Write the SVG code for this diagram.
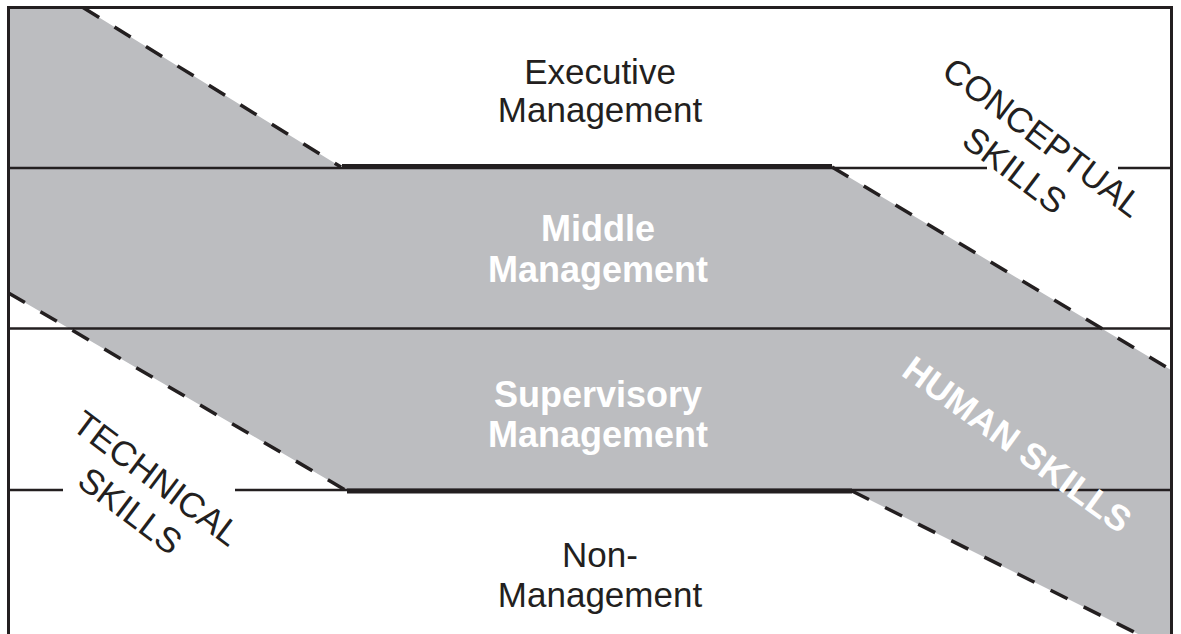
<svg xmlns="http://www.w3.org/2000/svg" width="1181" height="634" viewBox="0 0 1181 634">
  <style>
    .band { fill: #bcbdc0; stroke: none; }
    .frame { fill: none; stroke: #231f20; stroke-width: 3; }
    .rule { stroke: #231f20; stroke-width: 2.5; fill: none; }
    .thick { stroke: #231f20; stroke-width: 5; fill: none; }
    .dash { stroke: #231f20; stroke-width: 3.5; stroke-dasharray: 19 18; fill: none; }
    .lbl { font-family: "Liberation Sans", Arial, sans-serif; font-size: 35px; fill: #231f20; text-anchor: middle; }
    .lblw { font-family: "Liberation Sans", Arial, sans-serif; font-size: 36px; font-weight: bold; fill: #ffffff; text-anchor: middle; }
  </style>
  <rect width="1181" height="634" fill="#ffffff"/>
  <g id="band">
    <polygon class="band" points="8.5,7.5 83,7.5 341,167 832,167 1171,370 1171,634 1138,634 852,491 347,491 8.5,293"/>
  </g>
  <g id="connectors">
    <line class="rule" x1="8.5" y1="168" x2="987" y2="168"/>
    <line class="rule" x1="1118" y1="168" x2="1171" y2="168"/>
    <line class="rule" x1="8.5" y1="328.5" x2="1171" y2="328.5"/>
    <line class="rule" x1="8.5" y1="490" x2="63" y2="490"/>
    <line class="rule" x1="235" y1="490" x2="1171" y2="490"/>
    <line class="thick" x1="342" y1="166.5" x2="832" y2="166.5"/>
    <line class="thick" x1="347" y1="491" x2="852" y2="491"/>
    <line class="dash" x1="83" y1="7.5" x2="341" y2="167"/>
    <line class="dash" x1="832" y1="167" x2="1171" y2="370"/>
    <line class="dash" x1="8.5" y1="293" x2="347" y2="491"/>
    <line class="dash" x1="852" y1="491" x2="1140" y2="635"/>
  </g>
  <g id="frame">
    <path class="frame" d="M8.5,640 L8.5,7.5 L1171.5,7.5 L1171.5,640"/>
  </g>
  <g id="executive">
    <text class="lbl" x="600" y="84">Executive</text>
    <text class="lbl" x="600" y="122">Management</text>
  </g>
  <g id="middle">
    <text class="lblw" x="598" y="241">Middle</text>
    <text class="lblw" x="598" y="282">Management</text>
  </g>
  <g id="supervisory">
    <text class="lblw" x="598" y="407">Supervisory</text>
    <text class="lblw" x="598" y="447">Management</text>
  </g>
  <g id="non-management">
    <text class="lbl" x="600" y="567">Non-</text>
    <text class="lbl" x="600" y="607">Management</text>
  </g>
  <g id="conceptual-skills">
    <text class="lbl" transform="translate(1035.5,147) rotate(37)">CONCEPTUAL</text>
    <text class="lbl" transform="translate(1007.5,180) rotate(37)">SKILLS</text>
  </g>
  <g id="technical-skills">
    <text class="lbl" transform="translate(149.5,488) rotate(37)">TECHNICAL</text>
    <text class="lbl" transform="translate(123,520.5) rotate(37)">SKILLS</text>
  </g>
  <g id="human-skills">
    <text class="lblw" transform="translate(1010,454.5) rotate(36)">HUMAN SKILLS</text>
  </g>
</svg>
